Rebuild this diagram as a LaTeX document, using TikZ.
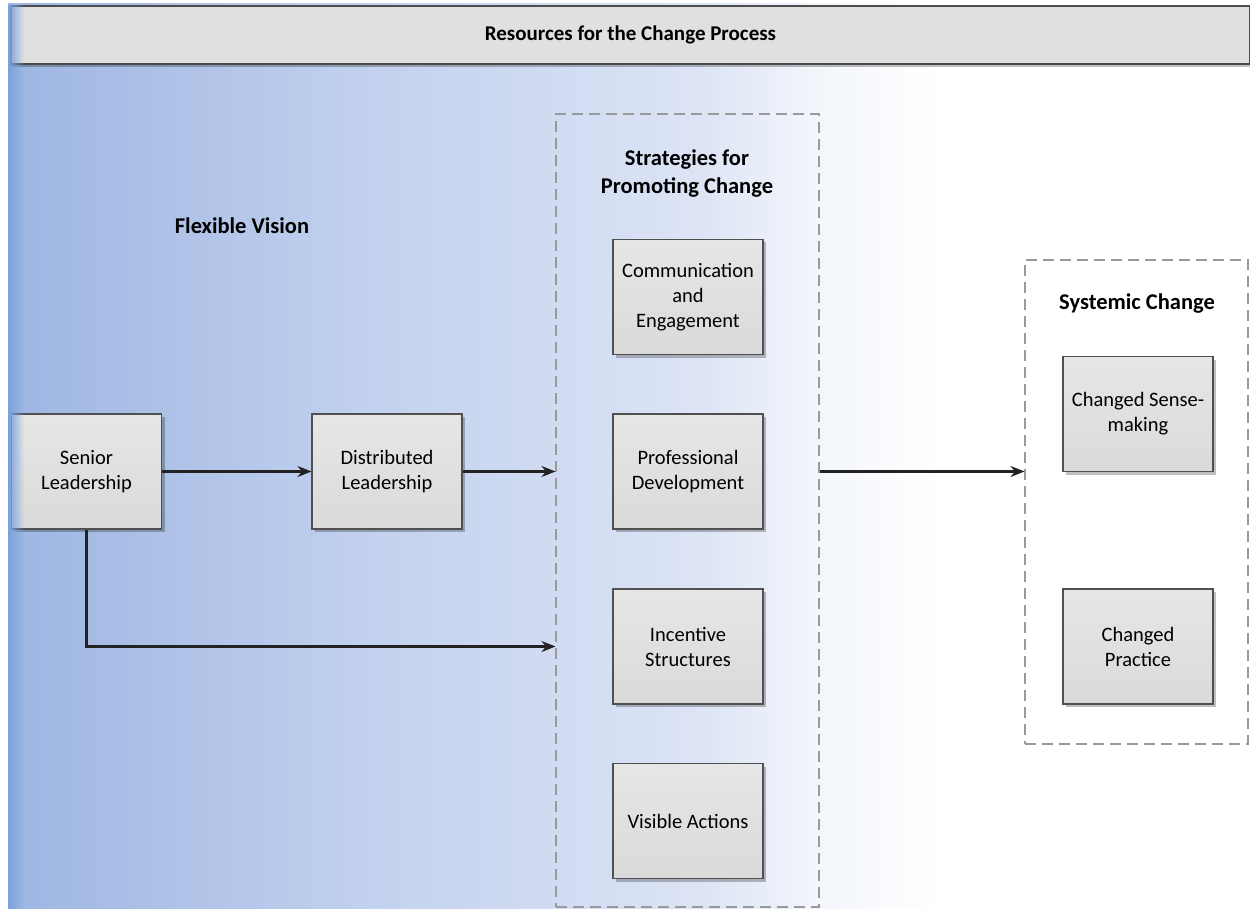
\documentclass[tikz,border=0pt]{standalone}
\usepackage{fontspec}
\setmainfont{Carlito}
\usetikzlibrary{arrows.meta,shadows,fadings,positioning}
\definecolor{bgA}{HTML}{7BA1DB}
\definecolor{bgB}{HTML}{9DB6E3}
\definecolor{bgC}{HTML}{AABFE6}
\definecolor{bgD}{HTML}{C5D3EF}
\definecolor{bgE}{HTML}{DCE4F5}
\definecolor{bgF}{HTML}{F3F6FB}
\definecolor{boxT}{HTML}{E6E6E6}
\definecolor{boxB}{HTML}{DADADA}
\definecolor{boxLine}{HTML}{505050}
\definecolor{dashLine}{HTML}{9A9A9A}
\definecolor{arrLine}{HTML}{222222}
\definecolor{barFill}{HTML}{E0E0E0}
\begin{document}
\begin{tikzpicture}[x=1pt,y=-1pt,
  body/.style={font=\fontsize{20.5}{25}\selectfont},
  head/.style={font=\fontsize{22.5}{28}\selectfont\bfseries, align=center},
  stepbox/.style={draw=boxLine, line width=1.1pt, top color=boxT, bottom color=boxB,
    minimum width=150pt, minimum height=115pt, inner sep=2pt, align=center, body,
    drop shadow={shadow xshift=3pt, shadow yshift=-3pt, fill=black, opacity=0.25}},
  container/.style={draw=dashLine, line width=1.1pt, dash pattern=on 11pt off 6pt, inner sep=0pt},
  arr/.style={draw=arrLine, line width=2.3pt, -{Stealth[length=14pt,width=11pt]}}
]
\useasboundingbox (0,0) rectangle (1250,909);
\fill[white] (0,0) rectangle (1250,909);
% background gradient
\shade[left color=bgB, right color=bgC] (8,4) rectangle (130.5,909);
\shade[left color=bgC, right color=bgD] (130,4) rectangle (400.5,909);
\shade[left color=bgD, right color=bgE] (400,4) rectangle (700.5,909);
\shade[left color=bgE, right color=bgF] (700,4) rectangle (820.5,909);
\shade[left color=bgF, right color=white] (820,4) rectangle (940,909);

% title bar
\node[draw=gray!60!black, line width=1.2pt, fill=barFill, minimum width=1239pt, minimum height=58pt,
  inner sep=0pt, drop shadow={shadow xshift=0pt, shadow yshift=-3pt, fill=black, opacity=0.25},
  font=\fontsize{21}{25}\selectfont\bfseries] (bar) at (630.5,35) {Resources for the Change Process};

% containers
\node[container, minimum width=263pt, minimum height=793pt] (strat) at (687.5,510.5) {};
\node[container, minimum width=223pt, minimum height=484pt] (sys) at (1136.5,502) {};

% headings
\node[head] (fv) at (242,226) {Flexible Vision};
\node[head] (sh) at (687,174) {Strategies for\\Promoting Change};
\node[head] (sch) at (1137,304) {Systemic Change};

% boxes
\node[stepbox] (sen) at (86.5,471.5) {Senior\\Leadership};
\node[stepbox] (dist) at (387,471.5) {Distributed\\Leadership};
\node[stepbox] (comm) at (688,297) {Communication\\and\\Engagement};
\node[stepbox] (prof) at (688,471.5) {Professional\\Development};
\node[stepbox] (inc) at (688,646.5) {Incentive\\Structures};
\node[stepbox] (vis) at (688,821) {Visible Actions};
\node[stepbox] (sense) at (1138,414) {Changed Sense-\\making};
\node[stepbox] (prac) at (1138,646.5) {Changed\\Practice};

% left glow strip
\fill[bgA, path fading=east] (8,4) rectangle (24,909);

% connectors
\draw[arr] (sen) -- (dist);
\draw[arr] (dist.east) -- (dist.east -| strat.west);
\draw[arr] (sen.south) |- (inc.west -| strat.west);
\draw[arr] (prof.east -| strat.east) -- (prof.east -| sys.west);
\end{tikzpicture}
\end{document}
